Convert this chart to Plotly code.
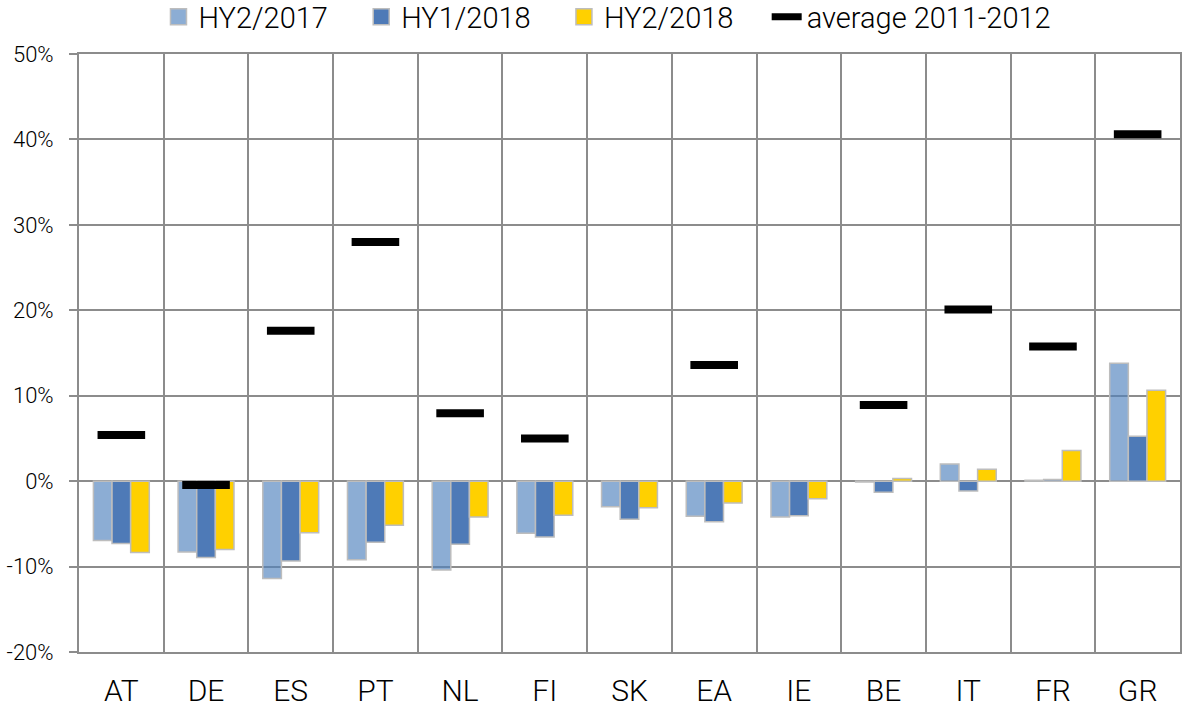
import plotly.graph_objects as go

categories = ["AT", "DE", "ES", "PT", "NL", "FI", "SK", "EA", "IE", "BE", "IT", "FR", "GR"]
hy2_2017 = [-6.95, -8.3, -11.4, -9.2, -10.4, -6.1, -3.0, -4.1, -4.2, -0.1, 2.0, 0.1, 13.8]
hy1_2018 = [-7.3, -8.95, -9.35, -7.15, -7.4, -6.55, -4.45, -4.75, -4.05, -1.3, -1.15, 0.2, 5.25]
hy2_2018 = [-8.35, -8.0, -6.05, -5.15, -4.2, -4.0, -3.1, -2.55, -2.05, 0.3, 1.4, 3.6, 10.65]
avg_2011_2012 = [5.4, -0.45, 17.6, 28.0, 7.95, 5.0, None, 13.6, None, 8.9, 20.1, 15.75, 40.6]

y_ticks = [-20, -10, 0, 10, 20, 30, 40, 50]
y_tick_labels = ["-20%", "-10%", "0%", "10%", "20%", "30%", "40%", "50%"]

FONT = "Roboto"
GRID = "#8c8c8c"
OUTLINE_COLOR = "#BDBDBD"
outline = dict(color=OUTLINE_COLOR, width=1.5)
PAD = "\u00a0" * 4

series = [
    ("HY2/2017", hy2_2017, "rgba(79,129,189,0.65)"),
    ("HY1/2018", hy1_2018, "#4E7AB7"),
    ("HY2/2018", hy2_2018, "#FFD000"),
]

fig = go.Figure()
for name, vals, col in series:
    fig.add_bar(x=categories, y=vals, name=name, showlegend=False,
                marker=dict(color=col, line=outline))
fig.add_scatter(x=categories, y=avg_2011_2012, name="average 2011-2012",
                mode="markers", showlegend=False,
                marker=dict(symbol="line-ew-open", size=34, color="black",
                            line=dict(color="black", width=8)))

# legend-only entries (no data drawn)
for name, vals, col in series:
    fig.add_scatter(x=[categories[0]], y=[None], name=name + PAD, mode="markers",
                    marker=dict(symbol="square", size=16, color=col,
                                line=dict(color=OUTLINE_COLOR, width=1.5)),
                    hoverinfo="skip")
fig.add_scatter(x=[categories[0]], y=[None], name="average 2011-2012", mode="lines",
                line=dict(color="black", width=7), hoverinfo="skip")

fig.update_layout(
    width=1182, height=708,
    margin=dict(l=79, r=2, t=54, b=56, autoexpand=False),
    paper_bgcolor="white", plot_bgcolor="white",
    barmode="group", bargap=0.34, bargroupgap=0,
    font=dict(family=FONT, size=20, color="#000000", weight=300),
    legend=dict(orientation="h", x=0.48, xanchor="center", y=1.062, yanchor="middle",
                font=dict(size=29, weight=300), itemsizing="trace", itemwidth=30,
                traceorder="normal", bgcolor="rgba(0,0,0,0)"),
    showlegend=True,
)
fig.update_xaxes(
    type="category", tickson="boundaries", range=[-0.5, 12.5],
    showgrid=True, gridcolor=GRID, gridwidth=2,
    showline=True, linecolor=GRID, linewidth=2, mirror=True,
    ticks="", tickfont=dict(size=30, weight=300), zeroline=False,
    ticklabelstandoff=11,
)
fig.update_yaxes(
    range=[-20, 50], tickvals=y_ticks, ticktext=y_tick_labels,
    showgrid=True, gridcolor=GRID, gridwidth=2,
    showline=True, linecolor=GRID, linewidth=2, mirror=True,
    ticks="outside", ticklen=8, tickcolor=GRID, tickwidth=2,
    zeroline=True, zerolinecolor=GRID, zerolinewidth=2,
    tickfont=dict(size=22, weight=300), ticklabelstandoff=11,
)

fig.write_html("out.html", config={"displayModeBar": False},
               post_script="document.body.style.margin='0px';document.body.style.overflow='hidden';")
